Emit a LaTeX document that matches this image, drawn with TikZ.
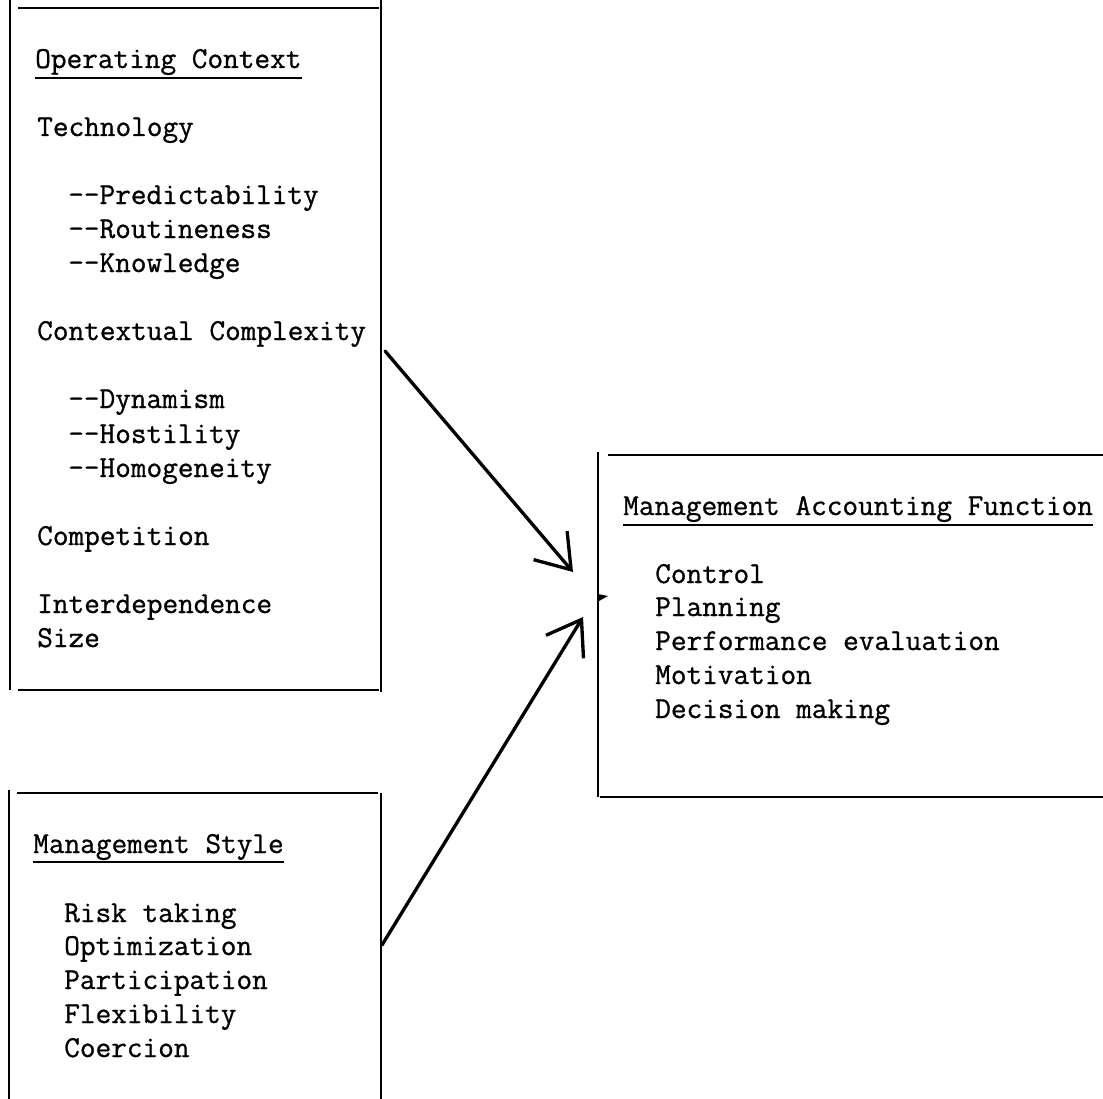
\documentclass[tikz,border=0pt]{standalone}
\usepackage{fontspec}
\newfontfamily\typewfont{Latin Modern Mono}[FakeBold=0.9]
\usetikzlibrary{arrows.meta}

\begin{document}
\begin{tikzpicture}[x=0.75pt,y=0.75pt,yscale=-1,xscale=1,
  txt/.style={anchor=base west,inner sep=0pt,font=\fontsize{22.8}{27}\selectfont\typewfont},
  boxline/.style={line width=1.4pt},
  flow/.style={line width=2.5pt,line cap=round,-{Straight Barb[length=24pt,width=33pt]}}]

\useasboundingbox (0,0) rectangle (1103,1099);

% operating context box
\draw [boxline] (10,0) -- (10,690);
\draw [boxline] (381,0) -- (381,692);
\draw [boxline] (18,8) -- (379,8);
\draw [boxline] (18,690) -- (379,690);

\node [txt] (opctx) at (35,68) {Operating Context};
\draw [boxline] ([yshift=7.5pt]opctx.base west) -- ([yshift=7.5pt]opctx.base east);
\node [txt] (tech) at (37,136) {Technology};
\node [txt] (pred) at (68,204) {-{}-Predictability};
\node [txt] (rout) at (68,238) {-{}-Routineness};
\node [txt] (know) at (68,272) {-{}-Knowledge};
\node [txt] (cplx) at (37,340) {Contextual Complexity};
\node [txt] (dyna) at (68,408) {-{}-Dynamism};
\node [txt] (host) at (68,443) {-{}-Hostility};
\node [txt] (homo) at (68,477) {-{}-Homogeneity};
\node [txt] (comp) at (37,545) {Competition};
\node [txt] (inter) at (37,613) {Interdependence};
\node [txt] (size) at (37,647) {Size};

% management style box
\draw [boxline] (9,790) -- (9,1099);
\draw [boxline] (381,793) -- (381,1099);
\draw [boxline] (17,793) -- (378,793);

\node [txt] (mstyle) at (33,853) {Management Style};
\draw [boxline] ([yshift=7pt]mstyle.base west) -- ([yshift=7pt]mstyle.base east);
\node [txt] (risk) at (64,922) {Risk taking};
\node [txt] (optim) at (64,955) {Optimization};
\node [txt] (partic) at (64,989) {Participation};
\node [txt] (flex) at (64,1023) {Flexibility};
\node [txt] (coerc) at (64,1057) {Coercion};

% management accounting function box
\draw [boxline] (598,452) -- (598,797);
\draw [boxline] (608,455) -- (1103,455);
\draw [boxline] (600,797) -- (1103,797);
\fill (598,594) -- (608,596) -- (599,601) -- cycle;

\node [txt] (maf) at (623,515) {Management Accounting Function};
\draw [boxline] ([yshift=7.5pt]maf.base west) -- ([yshift=7.5pt]maf.base east);
\node [txt] (ctrl) at (655,583) {Control};
\node [txt] (plan) at (655,616) {Planning};
\node [txt] (perf) at (655,650) {Performance evaluation};
\node [txt] (motiv) at (655,684) {Motivation};
\node [txt] (decis) at (655,718) {Decision making};

% arrows
\coordinate (ctxout) at (385,351);
\coordinate (styout) at (382,945);
\coordinate (mafin1) at (573,572);
\coordinate (mafin2) at (583,617);
\draw [flow] (ctxout) -- (mafin1);
\draw [flow] (styout) -- (mafin2);

\end{tikzpicture}
\end{document}
